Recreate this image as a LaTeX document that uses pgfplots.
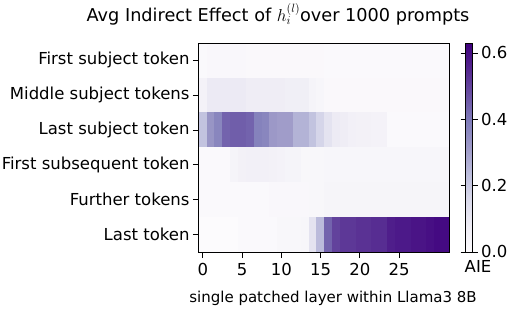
\documentclass[border=0pt]{standalone}
\usepackage{pgfplots}
\pgfplotsset{compat=1.18}
\usepackage{fontspec}
\setmainfont{DejaVu Sans}
\begin{document}
\begin{tikzpicture}
\path[use as bounding box] (-199pt,-64pt) rectangle (321pt,252pt);
\begin{axis}[
  at={(0pt,0pt)}, anchor=south west,
  scale only axis, width=251pt, height=209pt,
  axis on top,
  xmin=-0.5, xmax=31.5, ymin=-0.5, ymax=5.5,
  y dir=reverse,
  xtick={0,5,10,15,20,25},
  ytick={0,1,2,3,4,5},
  yticklabels={First subject token, Middle subject tokens, Last subject token, First subsequent token, Further tokens, Last token},
  tick align=outside, major tick length=6pt,
  major tick style={black, line width=0.9pt},
  xtick pos=bottom, ytick pos=left,
  /pgf/number format/assume math mode=true,
  tick label style={font=\fontsize{16.5}{19}\selectfont},
  xticklabel style={yshift=-2pt},
  label style={font=\fontsize{15}{18}\selectfont},
  xlabel={single patched layer within Llama3 8B},
  xlabel style={at={(axis description cs:0.534,-0.22)}, anchor=center},
  title={Avg Indirect Effect of $h_i^{(l)}$over 1000 prompts},
  title style={font=\fontsize{17.7}{20}\selectfont, at={(axis description cs:0.315,1.11)}, anchor=center},
  axis line style={black, line width=1pt},
  colormap={purples}{rgb255=(252,251,253) rgb255=(239,237,245) rgb255=(218,218,235) rgb255=(188,189,220) rgb255=(158,154,200) rgb255=(128,125,186) rgb255=(106,81,163) rgb255=(84,39,143) rgb255=(63,0,125)},
  point meta min=0, point meta max=0.63,
  colorbar,
  colorbar style={
    scale only axis,
    width=7pt,
    at={(parent axis.north east)}, anchor=north west, xshift=7pt,
    ytick={0,0.2,0.4,0.6},
    yticklabel style={/pgf/number format/.cd, fixed, fixed zerofill, precision=1, /tikz/.cd, font=\fontsize{16.5}{19}\selectfont},
    /pgf/number format/assume math mode=true,
    tick align=outside, major tick length=5pt,
    major tick style={black, line width=0.8pt},
    axis line style={black, line width=0.8pt},
    xlabel={AIE},
    xlabel style={font=\fontsize{16.5}{19}\selectfont, at={(axis description cs:0.5,0)}, anchor=north, xshift=9pt, yshift=-5pt},
  },
]
\addplot[matrix plot*, point meta=explicit, mesh/cols=32] coordinates {
(0,0)[0.01] (1,0)[0.02] (2,0)[0.02] (3,0)[0.02] (4,0)[0.02] (5,0)[0.02] (6,0)[0.015] (7,0)[0.015]
(8,0)[0.015] (9,0)[0.015] (10,0)[0.015] (11,0)[0.015] (12,0)[0.015] (13,0)[0.015] (14,0)[0.015] (15,0)[0.015]
(16,0)[0.01] (17,0)[0.01] (18,0)[0.01] (19,0)[0.01] (20,0)[0.01] (21,0)[0.01] (22,0)[0.01] (23,0)[0.01]
(24,0)[0.01] (25,0)[0.01] (26,0)[0.01] (27,0)[0.01] (28,0)[0.01] (29,0)[0.01] (30,0)[0.01] (31,0)[0.01]

(0,1)[0.05] (1,1)[0.09] (2,1)[0.09] (3,1)[0.09] (4,1)[0.09] (5,1)[0.09] (6,1)[0.08] (7,1)[0.08]
(8,1)[0.08] (9,1)[0.08] (10,1)[0.08] (11,1)[0.07] (12,1)[0.07] (13,1)[0.07] (14,1)[0.04] (15,1)[0.03]
(16,1)[0.015] (17,1)[0.015] (18,1)[0.015] (19,1)[0.015] (20,1)[0.015] (21,1)[0.015] (22,1)[0.015] (23,1)[0.015]
(24,1)[0.015] (25,1)[0.015] (26,1)[0.015] (27,1)[0.015] (28,1)[0.015] (29,1)[0.015] (30,1)[0.015] (31,1)[0.015]

(0,2)[0.22] (1,2)[0.33] (2,2)[0.37] (3,2)[0.44] (4,2)[0.45] (5,2)[0.45] (6,2)[0.44] (7,2)[0.38]
(8,2)[0.37] (9,2)[0.32] (10,2)[0.31] (11,2)[0.31] (12,2)[0.26] (13,2)[0.26] (14,2)[0.22] (15,2)[0.17]
(16,2)[0.12] (17,2)[0.085] (18,2)[0.08] (19,2)[0.06] (20,2)[0.055] (21,2)[0.055] (22,2)[0.05] (23,2)[0.05]
(24,2)[0.01] (25,2)[0.01] (26,2)[0.01] (27,2)[0.01] (28,2)[0.01] (29,2)[0.01] (30,2)[0.01] (31,2)[0.01]

(0,3)[0.01] (1,3)[0.01] (2,3)[0.01] (3,3)[0.01] (4,3)[0.04] (5,3)[0.055] (6,3)[0.06] (7,3)[0.06]
(8,3)[0.06] (9,3)[0.055] (10,3)[0.05] (11,3)[0.04] (12,3)[0.04] (13,3)[0.025] (14,3)[0.025] (15,3)[0.025]
(16,3)[0.03] (17,3)[0.03] (18,3)[0.03] (19,3)[0.03] (20,3)[0.03] (21,3)[0.03] (22,3)[0.03] (23,3)[0.03]
(24,3)[0.03] (25,3)[0.03] (26,3)[0.03] (27,3)[0.03] (28,3)[0.03] (29,3)[0.03] (30,3)[0.03] (31,3)[0.03]

(0,4)[0.01] (1,4)[0.01] (2,4)[0.01] (3,4)[0.01] (4,4)[0.01] (5,4)[0.01] (6,4)[0.01] (7,4)[0.01]
(8,4)[0.01] (9,4)[0.02] (10,4)[0.02] (11,4)[0.02] (12,4)[0.02] (13,4)[0.02] (14,4)[0.025] (15,4)[0.025]
(16,4)[0.035] (17,4)[0.035] (18,4)[0.035] (19,4)[0.035] (20,4)[0.035] (21,4)[0.035] (22,4)[0.035] (23,4)[0.035]
(24,4)[0.035] (25,4)[0.035] (26,4)[0.035] (27,4)[0.035] (28,4)[0.035] (29,4)[0.035] (30,4)[0.035] (31,4)[0.035]

(0,5)[0.0] (1,5)[0.0] (2,5)[0.0] (3,5)[0.0] (4,5)[0.0] (5,5)[0.01] (6,5)[0.01] (7,5)[0.01]
(8,5)[0.01] (9,5)[0.01] (10,5)[0.025] (11,5)[0.025] (12,5)[0.025] (13,5)[0.03] (14,5)[0.12] (15,5)[0.24]
(16,5)[0.44] (17,5)[0.5] (18,5)[0.52] (19,5)[0.52] (20,5)[0.53] (21,5)[0.53] (22,5)[0.54] (23,5)[0.54]
(24,5)[0.57] (25,5)[0.58] (26,5)[0.58] (27,5)[0.59] (28,5)[0.59] (29,5)[0.6] (30,5)[0.61] (31,5)[0.61]
};
\end{axis}
\end{tikzpicture}
\end{document}
